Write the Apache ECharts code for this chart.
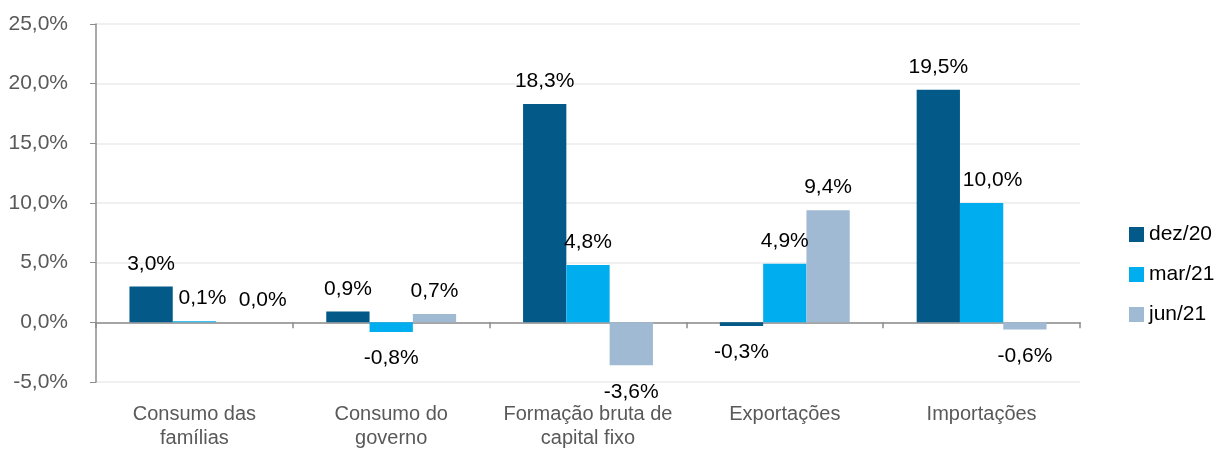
<!DOCTYPE html>
<html>
<head>
<meta charset="utf-8">
<script src="https://cdn.jsdelivr.net/npm/echarts@6/dist/echarts.min.js"></script>
<style>html,body{margin:0;padding:0;background:#fff}#c{width:1223px;height:451px}</style>
</head>
<body>
<div id="c"></div>
<script>
const categories = ['Consumo das\nfamílias', 'Consumo do\ngoverno', 'Formação bruta de\ncapital fixo', 'Exportações', 'Importações'];
const seriesNames = ['dez/20', 'mar/21', 'jun/21'];
const dez20 = [3.0, 0.9, 18.3, -0.3, 19.5];
const mar21 = [0.1, -0.8, 4.8, 4.9, 10.0];
const jun21 = [0.0, 0.7, -3.6, 9.4, -0.6];
const yTicks = { min: -5, max: 25, interval: 5 };

const colors = ['#035a88', '#00aeef', '#a0bad3'];
const FONT = 'Liberation Sans';
const fmt = v => v.toFixed(1).replace('.', ',') + '%';
// manual label shifts as in the original (series index -> category index -> dx)
const labelShift = { 1: { 0: 8, 4: 11 }, 2: { 0: 25 } };

function buildSeries(name, values, si) {
  return {
    name: name,
    type: 'bar',
    xAxisIndex: 0,
    barGap: '0%',
    barCategoryGap: '34%',
    itemStyle: { color: colors[si] },
    data: values.map((v, ci) => {
      const dx = (labelShift[si] && labelShift[si][ci]) || 0;
      return {
        value: v,
        label: {
          show: true,
          position: v < 0 ? 'bottom' : 'top',
          distance: v < 0 ? 16 : 12,
          offset: [dx, 0],
          formatter: p => fmt(p.value),
          color: '#000',
          fontFamily: FONT,
          fontSize: 21
        }
      };
    })
  };
}

const chart = echarts.init(document.getElementById('c'), null, { renderer: 'canvas' });
chart.setOption({
  animation: false,
  grid: { left: 96, right: 143, top: 24, bottom: 69 },
  legend: {
    orient: 'vertical',
    left: 1124,
    top: 219,
    itemWidth: 15,
    itemHeight: 15,
    itemGap: 19,
    icon: 'rect',
    textStyle: { fontFamily: FONT, fontSize: 21, color: '#000', padding: [0, 0, 0, 0] },
    data: seriesNames
  },
  xAxis: [
    {
      type: 'category',
      data: categories,
      axisLine: { onZero: true, lineStyle: { color: '#8c8c8c', width: 1.5 } },
      axisTick: { show: true, length: 6, lineStyle: { color: '#8c8c8c', width: 1.5 } },
      axisLabel: { show: false },
      splitLine: { show: false }
    },
    {
      type: 'category',
      data: categories,
      position: 'bottom',
      axisLine: { show: false },
      axisTick: { show: false },
      axisLabel: { color: '#595959', fontFamily: FONT, fontSize: 20, margin: 20, lineHeight: 24, interval: 0 }
    }
  ],
  yAxis: {
    type: 'value',
    min: yTicks.min,
    max: yTicks.max,
    interval: yTicks.interval,
    axisLine: { show: true, lineStyle: { color: '#8c8c8c', width: 1.5 } },
    axisTick: { show: true, length: 6, lineStyle: { color: '#8c8c8c' } },
    axisLabel: { color: '#595959', fontFamily: FONT, fontSize: 21, margin: 28, formatter: v => fmt(v) },
    splitLine: { lineStyle: { color: '#ebebeb', width: 1.5 } }
  },
  series: [
    buildSeries(seriesNames[0], dez20, 0),
    buildSeries(seriesNames[1], mar21, 1),
    buildSeries(seriesNames[2], jun21, 2)
  ]
});
</script>
</body>
</html>
